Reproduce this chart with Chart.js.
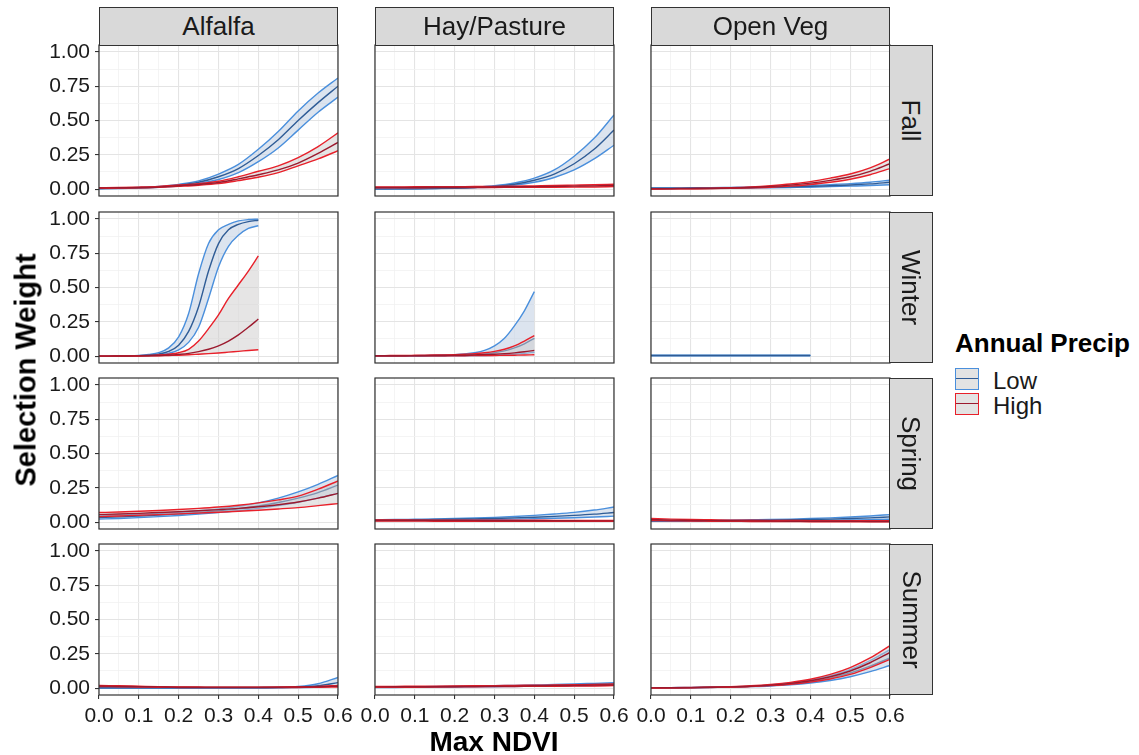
<!DOCTYPE html>
<html>
<head>
<meta charset="utf-8">
<script src="https://cdn.jsdelivr.net/npm/chart.js@4/dist/chart.umd.min.js"></script>
<style>
body { margin:0; background:#fff; font-family:"Liberation Sans", Arial, sans-serif; }
#wrap { position:relative; width:1139px; height:755px; overflow:hidden; }
canvas.panel { position:absolute; }
.strip { position:absolute; box-sizing:border-box; background:#d9d9d9; border:1px solid #333;
  color:#1a1a1a; font-size:26px; display:flex; align-items:center; justify-content:center; }
.strip.side span { transform:rotate(90deg); white-space:nowrap; }
.title { position:absolute; font-weight:bold; color:#000; white-space:nowrap; line-height:1; }
.key { position:absolute; width:24px; height:22px; box-sizing:border-box; background:#e3e3e3; border:1.5px solid; }
.key i { position:absolute; left:0; right:0; top:9px; height:0; border-top:1.5px solid; }
.lab { position:absolute; font-size:24px; line-height:1; color:#1a1a1a; }
</style>
</head>
<body>
<div id="wrap"></div>
<script>
// facets
const landCovers = ['Alfalfa', 'Hay/Pasture', 'Open Veg'];
const seasons = ['Fall', 'Winter', 'Spring', 'Summer'];
const precipLevels = ['Low', 'High'];

// axis ticks
const xTicks = [0, 0.1, 0.2, 0.3, 0.4, 0.5, 0.6];
const yTicks = [0, 0.25, 0.5, 0.75, 1];

// x values of the fitted curves
const xFull = [0, 0.05, 0.1, 0.15, 0.2, 0.25, 0.3, 0.35, 0.4, 0.45, 0.5, 0.55, 0.6];
const xWinter = [0, 0.025, 0.05, 0.075, 0.1, 0.125, 0.15, 0.175, 0.2, 0.225, 0.25, 0.275, 0.3, 0.325, 0.35, 0.375, 0.4];

// each band = [lower, fit, upper]
const alfalfaFallLow = [
  [0.003, 0.005, 0.008, 0.013, 0.023, 0.04, 0.07, 0.12, 0.2, 0.3, 0.43, 0.56, 0.67],
  [0.004, 0.006, 0.010, 0.016, 0.029, 0.05, 0.09, 0.15, 0.245, 0.36, 0.5, 0.63, 0.75],
  [0.005, 0.008, 0.012, 0.02, 0.035, 0.06, 0.11, 0.18, 0.29, 0.42, 0.57, 0.7, 0.81]];
const alfalfaFallHigh = [
  [0.006, 0.008, 0.010, 0.013, 0.02, 0.028, 0.04, 0.062, 0.087, 0.12, 0.17, 0.22, 0.28],
  [0.008, 0.010, 0.012, 0.016, 0.025, 0.034, 0.048, 0.075, 0.105, 0.14, 0.19, 0.26, 0.34],
  [0.010, 0.012, 0.015, 0.02, 0.03, 0.04, 0.057, 0.09, 0.13, 0.17, 0.23, 0.31, 0.41]];
const alfalfaWinterLow = [
  [0, 0, 0, 0.001, 0.002, 0.004, 0.009, 0.02, 0.045, 0.1, 0.21, 0.42, 0.65, 0.8, 0.88, 0.93, 0.95],
  [0, 0, 0.001, 0.0015, 0.003, 0.007, 0.015, 0.035, 0.08, 0.18, 0.36, 0.62, 0.82, 0.92, 0.96, 0.98, 0.99],
  [0, 0, 0.001, 0.002, 0.005, 0.012, 0.025, 0.06, 0.14, 0.31, 0.60, 0.82, 0.92, 0.96, 0.985, 0.995, 0.998]];
const alfalfaWinterHigh = [
  [0, 0, 0, 0.001, 0.001, 0.002, 0.003, 0.005, 0.007, 0.01, 0.014, 0.018, 0.023, 0.029, 0.035, 0.041, 0.047],
  [0, 0, 0.001, 0.001, 0.002, 0.003, 0.005, 0.008, 0.013, 0.02, 0.033, 0.05, 0.075, 0.11, 0.155, 0.21, 0.27],
  [0, 0, 0.001, 0.002, 0.003, 0.005, 0.008, 0.014, 0.025, 0.05, 0.11, 0.2, 0.3, 0.42, 0.52, 0.62, 0.73]];
const alfalfaSpringLow = [
  [0.022, 0.027, 0.033, 0.04, 0.048, 0.058, 0.07, 0.083, 0.1, 0.12, 0.145, 0.175, 0.21],
  [0.033, 0.038, 0.044, 0.051, 0.06, 0.07, 0.083, 0.098, 0.118, 0.143, 0.175, 0.215, 0.27],
  [0.045, 0.05, 0.056, 0.063, 0.072, 0.083, 0.097, 0.115, 0.14, 0.175, 0.22, 0.275, 0.34]];
const alfalfaSpringHigh = [
  [0.04, 0.045, 0.05, 0.055, 0.06, 0.066, 0.072, 0.079, 0.087, 0.096, 0.106, 0.12, 0.135],
  [0.055, 0.059, 0.064, 0.07, 0.076, 0.083, 0.091, 0.1, 0.112, 0.127, 0.147, 0.175, 0.21],
  [0.07, 0.074, 0.079, 0.085, 0.092, 0.1, 0.11, 0.123, 0.14, 0.162, 0.19, 0.24, 0.30]];
const alfalfaSummerLow = [
  [0.001, 0.001, 0.001, 0.001, 0.001, 0.001, 0.001, 0.001, 0.001, 0.002, 0.004, 0.008, 0.016],
  [0.002, 0.002, 0.002, 0.002, 0.002, 0.002, 0.002, 0.002, 0.003, 0.004, 0.007, 0.017, 0.04],
  [0.003, 0.003, 0.003, 0.003, 0.003, 0.003, 0.003, 0.003, 0.004, 0.006, 0.012, 0.032, 0.078]];
const alfalfaSummerHigh = [
  [0.012, 0.01, 0.008, 0.006, 0.005, 0.004, 0.004, 0.004, 0.004, 0.004, 0.005, 0.006, 0.008],
  [0.016, 0.013, 0.011, 0.009, 0.007, 0.006, 0.006, 0.006, 0.006, 0.007, 0.008, 0.01, 0.014],
  [0.02, 0.017, 0.014, 0.011, 0.009, 0.008, 0.007, 0.007, 0.007, 0.008, 0.01, 0.013, 0.02]];

const hayFallLow = [
  [0.001, 0.002, 0.003, 0.004, 0.006, 0.01, 0.016, 0.028, 0.05, 0.085, 0.14, 0.22, 0.32],
  [0.002, 0.002, 0.003, 0.005, 0.007, 0.012, 0.02, 0.036, 0.065, 0.11, 0.185, 0.29, 0.43],
  [0.002, 0.003, 0.004, 0.006, 0.009, 0.015, 0.025, 0.045, 0.08, 0.14, 0.24, 0.37, 0.54]];
const hayFallHigh = [
  [0.01, 0.01, 0.01, 0.011, 0.011, 0.012, 0.012, 0.013, 0.013, 0.014, 0.015, 0.016, 0.018],
  [0.013, 0.013, 0.013, 0.014, 0.014, 0.015, 0.016, 0.017, 0.018, 0.02, 0.022, 0.024, 0.027],
  [0.016, 0.016, 0.017, 0.017, 0.018, 0.019, 0.02, 0.022, 0.024, 0.026, 0.029, 0.032, 0.036]];
const hayWinterLow = [
  [0.001, 0.001, 0.001, 0.001, 0.001, 0.002, 0.002, 0.002, 0.003, 0.003, 0.004, 0.005, 0.007, 0.01, 0.014, 0.02, 0.028],
  [0.002, 0.002, 0.002, 0.003, 0.003, 0.003, 0.004, 0.005, 0.006, 0.008, 0.011, 0.016, 0.025, 0.038, 0.06, 0.09, 0.13],
  [0.003, 0.003, 0.003, 0.004, 0.004, 0.005, 0.006, 0.008, 0.011, 0.016, 0.025, 0.042, 0.075, 0.13, 0.22, 0.33, 0.47]];
const hayWinterHigh = [
  [0.002, 0.002, 0.002, 0.002, 0.002, 0.002, 0.003, 0.003, 0.003, 0.003, 0.004, 0.004, 0.005, 0.006, 0.007, 0.008, 0.01],
  [0.003, 0.003, 0.003, 0.003, 0.004, 0.004, 0.005, 0.005, 0.006, 0.007, 0.009, 0.011, 0.014, 0.018, 0.024, 0.032, 0.042],
  [0.004, 0.004, 0.005, 0.005, 0.006, 0.007, 0.008, 0.009, 0.011, 0.014, 0.018, 0.025, 0.035, 0.05, 0.075, 0.11, 0.15]];
const haySpringLow = [
  [0.012, 0.013, 0.014, 0.015, 0.016, 0.018, 0.02, 0.022, 0.025, 0.028, 0.032, 0.037, 0.044],
  [0.015, 0.016, 0.017, 0.019, 0.021, 0.024, 0.027, 0.031, 0.036, 0.042, 0.049, 0.058, 0.07],
  [0.018, 0.019, 0.021, 0.023, 0.026, 0.03, 0.035, 0.041, 0.049, 0.059, 0.071, 0.088, 0.11]];
const haySpringHigh = [
  [0.008, 0.008, 0.008, 0.007, 0.007, 0.007, 0.007, 0.007, 0.006, 0.006, 0.006, 0.006, 0.006],
  [0.012, 0.012, 0.012, 0.011, 0.011, 0.011, 0.01, 0.01, 0.01, 0.01, 0.01, 0.009, 0.009],
  [0.016, 0.016, 0.015, 0.015, 0.015, 0.014, 0.014, 0.014, 0.014, 0.013, 0.013, 0.013, 0.013]];
const haySummerLow = [
  [0.004, 0.005, 0.006, 0.007, 0.008, 0.009, 0.01, 0.012, 0.013, 0.015, 0.017, 0.019, 0.022],
  [0.006, 0.007, 0.008, 0.009, 0.01, 0.012, 0.013, 0.015, 0.017, 0.02, 0.022, 0.026, 0.03],
  [0.008, 0.009, 0.01, 0.012, 0.013, 0.015, 0.017, 0.02, 0.023, 0.026, 0.03, 0.035, 0.04]];
const haySummerHigh = [
  [0.006, 0.007, 0.007, 0.008, 0.009, 0.01, 0.011, 0.012, 0.013, 0.014, 0.015, 0.016, 0.018],
  [0.009, 0.01, 0.01, 0.011, 0.012, 0.013, 0.014, 0.015, 0.017, 0.018, 0.02, 0.022, 0.024],
  [0.012, 0.013, 0.014, 0.015, 0.016, 0.017, 0.018, 0.02, 0.021, 0.023, 0.025, 0.027, 0.03]];

const openVegFallLow = [
  [0.005, 0.005, 0.006, 0.006, 0.007, 0.008, 0.01, 0.012, 0.014, 0.018, 0.022, 0.026, 0.032],
  [0.006, 0.007, 0.008, 0.009, 0.01, 0.012, 0.014, 0.017, 0.02, 0.025, 0.03, 0.038, 0.05],
  [0.008, 0.009, 0.01, 0.011, 0.013, 0.015, 0.018, 0.022, 0.027, 0.033, 0.04, 0.05, 0.065]];
const openVegFallHigh = [
  [0.001, 0.002, 0.003, 0.004, 0.006, 0.009, 0.014, 0.022, 0.034, 0.05, 0.072, 0.105, 0.15],
  [0.002, 0.003, 0.004, 0.005, 0.008, 0.012, 0.019, 0.029, 0.044, 0.064, 0.09, 0.13, 0.185],
  [0.003, 0.004, 0.005, 0.007, 0.01, 0.016, 0.025, 0.037, 0.055, 0.08, 0.11, 0.155, 0.22]];
const openVegWinterLow = [
  [0.003, 0.003, 0.003, 0.003, 0.003, 0.003, 0.003, 0.003, 0.003, 0.003, 0.003, 0.003, 0.003, 0.003, 0.003, 0.003, 0.003],
  [0.005, 0.005, 0.005, 0.005, 0.005, 0.005, 0.005, 0.005, 0.005, 0.005, 0.005, 0.005, 0.005, 0.005, 0.005, 0.005, 0.005],
  [0.007, 0.007, 0.007, 0.007, 0.007, 0.007, 0.007, 0.007, 0.007, 0.007, 0.007, 0.007, 0.007, 0.007, 0.007, 0.007, 0.007]];
const openVegWinterHigh = null;
const openVegSpringLow = [
  [0.006, 0.006, 0.007, 0.007, 0.008, 0.009, 0.01, 0.011, 0.012, 0.014, 0.016, 0.018, 0.021],
  [0.009, 0.009, 0.01, 0.011, 0.012, 0.013, 0.015, 0.017, 0.019, 0.022, 0.026, 0.031, 0.038],
  [0.012, 0.012, 0.013, 0.014, 0.015, 0.017, 0.019, 0.022, 0.026, 0.031, 0.037, 0.045, 0.055]];
const openVegSpringHigh = [
  [0.012, 0.01, 0.008, 0.007, 0.006, 0.005, 0.004, 0.004, 0.003, 0.003, 0.002, 0.002, 0.002],
  [0.018, 0.015, 0.013, 0.011, 0.01, 0.009, 0.008, 0.007, 0.007, 0.006, 0.006, 0.005, 0.005],
  [0.026, 0.022, 0.019, 0.017, 0.015, 0.014, 0.013, 0.012, 0.011, 0.011, 0.01, 0.01, 0.01]];
const openVegSummerLow = [
  [0.002, 0.002, 0.003, 0.005, 0.007, 0.011, 0.016, 0.024, 0.037, 0.056, 0.083, 0.12, 0.165],
  [0.002, 0.003, 0.004, 0.006, 0.009, 0.013, 0.02, 0.031, 0.048, 0.073, 0.11, 0.16, 0.22],
  [0.003, 0.004, 0.005, 0.007, 0.01, 0.015, 0.024, 0.037, 0.058, 0.09, 0.135, 0.2, 0.28]];
const openVegSummerHigh = [
  [0.001, 0.002, 0.003, 0.005, 0.007, 0.011, 0.018, 0.028, 0.044, 0.067, 0.1, 0.15, 0.21],
  [0.002, 0.003, 0.004, 0.006, 0.009, 0.014, 0.022, 0.035, 0.054, 0.083, 0.125, 0.185, 0.26],
  [0.002, 0.003, 0.005, 0.007, 0.011, 0.017, 0.027, 0.042, 0.065, 0.1, 0.15, 0.22, 0.31]];

// rows = seasons, cols = land covers
const bandsLow = [
  [alfalfaFallLow, hayFallLow, openVegFallLow],
  [alfalfaWinterLow, hayWinterLow, openVegWinterLow],
  [alfalfaSpringLow, haySpringLow, openVegSpringLow],
  [alfalfaSummerLow, haySummerLow, openVegSummerLow]];
const bandsHigh = [
  [alfalfaFallHigh, hayFallHigh, openVegFallHigh],
  [alfalfaWinterHigh, hayWinterHigh, openVegWinterHigh],
  [alfalfaSpringHigh, haySpringHigh, openVegSpringHigh],
  [alfalfaSummerHigh, haySummerHigh, openVegSummerHigh]];

// layout of the facet grid
const panelLeft = [99, 375, 651];
const panelTop = [45, 212, 378, 544];
const panelW = 239, panelH = 151;
const padL = 70, padR = 24, padT = 12, padB = 45;

const FONT = '"Liberation Sans", Arial, sans-serif';
const lowLine = '#4a8fdc', lowMid = '#2f5c96', lowFill = 'rgba(185,202,224,0.5)';
const highLine = '#e8202a', highMid = '#9c1a2e', highFill = 'rgba(205,203,203,0.5)';

const wrap = document.getElementById('wrap');

function isOn(v, ticks) {
  return ticks.some(t => Math.abs(t - v) < 1e-6);
}
function withMinor(ticks) {
  let out = [];
  for (let i = 0; i < ticks.length; i++) {
    out.push(ticks[i]);
    if (i < ticks.length - 1) out.push((ticks[i] + ticks[i + 1]) / 2);
  }
  return out;
}

// lower + upper (filled between) + fitted line on top
function ribbon(xs, band, line, mid, fill, order) {
  const pts = arr => arr.map((y, i) => ({x: xs[i], y: y}));
  const base = {pointRadius: 0, borderWidth: 1.4, cubicInterpolationMode: 'monotone'};
  return [
    Object.assign({}, base, {data: pts(band[0]), borderColor: line, fill: false, order: order + 1}),
    Object.assign({}, base, {data: pts(band[2]), borderColor: line, fill: '-1', backgroundColor: fill, order: order + 1}),
    Object.assign({}, base, {data: pts(band[1]), borderColor: mid, fill: false, order: order})
  ];
}

const frame = {
  id: 'frame',
  afterDraw(chart) {
    const a = chart.chartArea, c = chart.ctx;
    c.save();
    c.strokeStyle = '#333';
    c.lineWidth = 1.2;
    c.strokeRect(a.left, a.top, a.right - a.left, a.bottom - a.top);
    c.restore();
  }
};

function drawPanel(r, c) {
  const cv = document.createElement('canvas');
  cv.className = 'panel';
  cv.width = panelW + padL + padR;
  cv.height = panelH + padT + padB;
  cv.style.left = (panelLeft[c] - padL) + 'px';
  cv.style.top = (panelTop[r] - padT) + 'px';
  wrap.appendChild(cv);

  const xs = r === 1 ? xWinter : xFull;
  let datasets = ribbon(xs, bandsLow[r][c], lowLine, lowMid, lowFill, 3);
  if (bandsHigh[r][c]) {
    datasets = datasets.concat(ribbon(xs, bandsHigh[r][c], highLine, highMid, highFill, 1));
  }
  const showY = c === 0, showX = r === 3;

  new Chart(cv, {
    type: 'line',
    data: {datasets: datasets},
    options: {
      responsive: false,
      animation: false,
      events: [],
      layout: {padding: {left: 0, right: padR, top: padT, bottom: 0}},
      plugins: {legend: {display: false}, tooltip: {enabled: false}},
      scales: {
        x: {
          type: 'linear', min: 0, max: 0.6,
          afterBuildTicks: s => { s.ticks = withMinor(xTicks).map(v => ({value: v})); },
          afterFit: s => { s.height = padB; s.paddingLeft = 0; s.paddingRight = 0; },
          border: {display: false},
          grid: {
            color: ctx => (ctx.tick && isOn(ctx.tick.value, xTicks)) ? '#e4e4e4' : '#f1f1f1',
            lineWidth: ctx => (ctx.tick && isOn(ctx.tick.value, xTicks)) ? 1.1 : 0.8,
            drawTicks: showX, tickLength: 4, tickWidth: 1.1,
            tickColor: ctx => (ctx.tick && isOn(ctx.tick.value, xTicks)) ? '#333' : 'rgba(0,0,0,0)'
          },
          ticks: {
            display: showX, autoSkip: false, maxRotation: 0, padding: 5,
            color: '#1a1a1a', font: {size: 21, family: FONT},
            callback: v => isOn(v, xTicks) ? v.toFixed(1) : ''
          }
        },
        y: {
          type: 'linear', min: -0.05, max: 1.05,
          afterBuildTicks: s => { s.ticks = withMinor(yTicks).map(v => ({value: v})); },
          afterFit: s => { s.width = padL; s.paddingTop = 0; s.paddingBottom = 0; },
          border: {display: false},
          grid: {
            color: ctx => (ctx.tick && isOn(ctx.tick.value, yTicks)) ? '#e4e4e4' : '#f1f1f1',
            lineWidth: ctx => (ctx.tick && isOn(ctx.tick.value, yTicks)) ? 1.1 : 0.8,
            drawTicks: showY, tickLength: 4, tickWidth: 1.1,
            tickColor: ctx => (ctx.tick && isOn(ctx.tick.value, yTicks)) ? '#333' : 'rgba(0,0,0,0)'
          },
          ticks: {
            display: showY, autoSkip: false, padding: 5,
            color: '#1a1a1a', font: {size: 21, family: FONT},
            callback: v => isOn(v, yTicks) ? v.toFixed(2) : ''
          }
        }
      }
    },
    plugins: [frame]
  });
}

function addDiv(cls, css, html) {
  const d = document.createElement('div');
  d.className = cls;
  d.style.cssText = css;
  d.innerHTML = html;
  wrap.appendChild(d);
  return d;
}

for (let r = 0; r < seasons.length; r++) {
  for (let c = 0; c < landCovers.length; c++) drawPanel(r, c);
}

// strips
landCovers.forEach((name, c) => {
  addDiv('strip', `left:${panelLeft[c]}px;top:7px;width:${panelW}px;height:39px;`, name);
});
seasons.forEach((name, r) => {
  addDiv('strip side', `left:${panelLeft[2] + panelW - 1}px;top:${panelTop[r]}px;width:44px;height:${panelH}px;`, `<span>${name}</span>`);
});

// axis titles
addDiv('title', 'font-size:28px;left:494px;top:728px;transform:translateX(-50%);', 'Max NDVI');
addDiv('title', 'font-size:29px;left:26px;top:370px;transform:translate(-50%,-50%) rotate(-90deg);', 'Selection Weight');

// legend
addDiv('title', 'font-size:26px;left:955px;top:330px;', 'Annual Precip');
const keyColors = [lowLine, highLine];
const keyMids = [lowMid, highMid];
precipLevels.forEach((name, i) => {
  const k = addDiv('key', `left:955px;top:${368 + i * 25}px;border-color:${keyColors[i]};`, '<i></i>');
  k.querySelector('i').style.borderTopColor = keyMids[i];
  addDiv('lab', `left:993px;top:${369 + i * 25}px;`, name);
});
</script>
</body>
</html>
